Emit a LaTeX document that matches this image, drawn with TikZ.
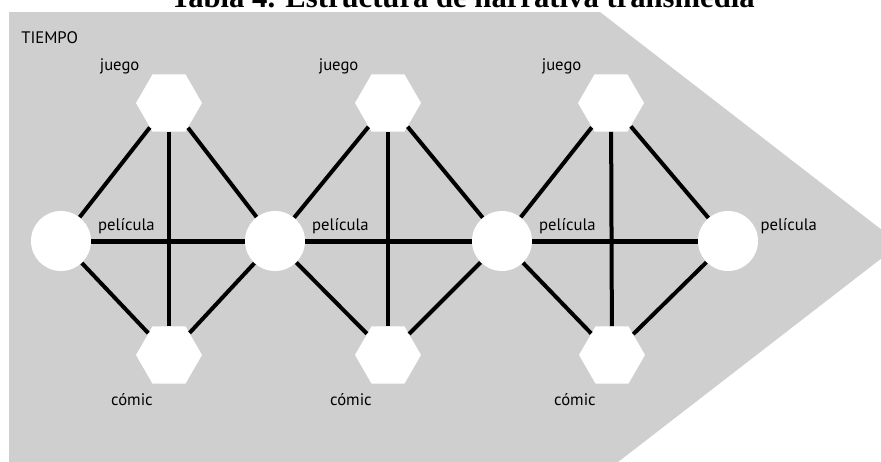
\documentclass[tikz,border=0pt]{standalone}
\usepackage{fontspec}
\setmainfont{PT Sans}
\newfontfamily\titlefont{Liberation Serif}
\usepackage{tikz}
\usetikzlibrary{
    positioning,
    shapes.geometric
}
\definecolor{fondo}{RGB}{207,207,207}
\tikzset{
    pelicula/.style={
        circle,
        fill=white,
        minimum size=45pt,
        inner sep=0pt
    },
    medio/.style={
        regular polygon,
        regular polygon sides=6,
        fill=white,
        minimum size=49.5pt,
        inner sep=0pt
    },
    etiqueta/.style={
        inner sep=0pt,
        font=\fontsize{12.5pt}{15pt}\selectfont
    },
    titulo/.style={
        inner sep=0pt,
        font=\titlefont\bfseries\fontsize{23pt}{27pt}\selectfont
    },
    enlace/.style={
        line width=3pt
    },
    eje/.style={
        line width=3.75pt
    }
}

\begin{document}
\begin{tikzpicture}[x=0.75pt, y=-0.75pt]
\useasboundingbox (0,0) rectangle (881,461);
\clip (0,0) rectangle (881,461);
\fill[fondo] (9,12) -- (600,12) -- (900,244) -- (600,476) -- (9,476) -- cycle;
\node[titulo, anchor=base east] (titulo) at (755,7) {Tabla 4. Estructura de narrativa transmedia};
\node[etiqueta, anchor=base west] (tiempo) at (21,43) {TIEMPO};

\node[pelicula] (peli1) at (61,241) {};
\node[pelicula] (peli2) at (275,241) {};
\node[pelicula] (peli3) at (502,241) {};
\node[pelicula] (peli4) at (728,241) {};

\node[medio] (juego1) at (169,103) {};
\node[medio] (juego2) at (388,103) {};
\node[medio] (juego3) at (611,103) {};
\node[medio] (comic1) at (169,355) {};
\node[medio] (comic2) at (388,355) {};
\node[medio] (comic3) at (612,355) {};

\node[etiqueta, above right=5pt and 5pt of peli1.east] (tpeli1) {película};
\node[etiqueta, above right=5pt and 5pt of peli2.east] (tpeli2) {película};
\node[etiqueta, above right=5pt and 5pt of peli3.east] (tpeli3) {película};
\node[etiqueta, above right=5pt and 1.5pt of peli4.east] (tpeli4) {película};
\node[etiqueta, above left=0pt and 22pt of juego1.north] (tjuego1) {juego};
\node[etiqueta, above left=0pt and 22pt of juego2.north] (tjuego2) {juego};
\node[etiqueta, above left=0pt and 22pt of juego3.north] (tjuego3) {juego};
\node[etiqueta, below left=7pt and 12pt of comic1.south] (tcomic1) {cómic};
\node[etiqueta, below left=7pt and 12pt of comic2.south] (tcomic2) {cómic};
\node[etiqueta, below left=7pt and 12pt of comic3.south] (tcomic3) {cómic};

\draw[enlace] (peli1) -- (juego1) -- (peli2) -- (comic1) -- (peli1);
\draw[enlace] (peli2) -- (juego2) -- (peli3) -- (comic2) -- (peli2);
\draw[enlace] (peli3) -- (juego3) -- (peli4) -- (comic3) -- (peli3);
\draw[enlace] (juego1) -- (comic1);
\draw[enlace] (juego2) -- (comic2);
\draw[enlace] (juego3) -- (comic3);
\draw[eje] (peli1) -- (peli2) -- (peli3) -- (peli4);
\end{tikzpicture}
\end{document}
